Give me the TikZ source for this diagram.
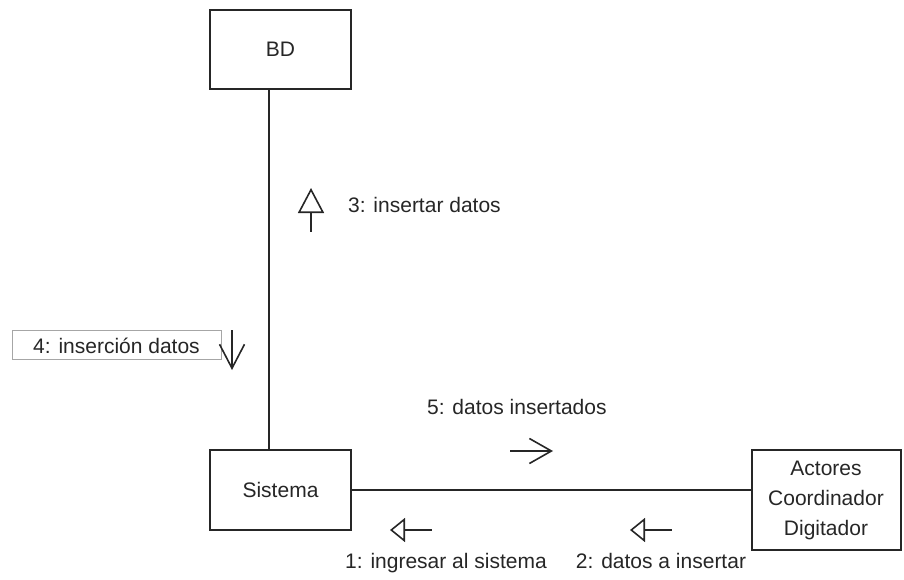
\documentclass[tikz,border=0pt]{standalone}
\usepackage{fontspec}
\setmainfont{Liberation Sans}
\usetikzlibrary{arrows.meta}
\begin{document}
\begin{tikzpicture}[x=1pt,y=-1pt,
  ink/.style={draw=black!85},
  txt/.style={font=\fontsize{21}{30}\selectfont, text=black!85, inner sep=0pt},
  obj/.style={ink, line width=2pt, inner sep=0pt, txt, align=center},
  link/.style={ink, line width=1.7pt},
  msg/.style={ink, line width=1.6pt},
  opentri/.style args={#1/#2}{{Triangle[open, length=#1pt, width=#2pt, line width=1.6pt]}-},
  barb/.style args={#1/#2}{-{Straight Barb[length=#1pt, width=#2pt, line width=1.6pt]}}]
  \useasboundingbox (0,0) rectangle (904,580);

  % objects
  \node[obj, minimum width=141pt, minimum height=79pt] (bd) at (280.5,49.5) {BD};
  \node[obj, minimum width=141pt, minimum height=80pt] (sis) at (280.5,490) {Sistema};
  \node[obj, minimum width=149pt, minimum height=100pt] (act) at (826,500)
       {Actores\\Coordinador\\Digitador};

  % links
  \draw[link] ([xshift=60pt]bd.south west) -- ([xshift=60pt]sis.north west);
  \draw[link] (sis.east) -- (sis.east -| act.west);

  % message 3
  \coordinate (m3a) at (311,188);
  \coordinate (m3b) at (311,232);
  \draw[msg, opentri=25/26] (m3a) -- (m3b);
  \node[txt, anchor=base west] (l3) at (348,212) {3: insertar datos};

  % message 4
  \node[txt, draw=black!35, line width=0.6pt, minimum width=209pt, minimum height=29pt]
       (l4) at (116.5,344.5) {};
  \node[txt, anchor=base] at (116.5,353) {4: inserción datos};
  \coordinate (m4a) at (232,330);
  \coordinate (m4b) at (232,370);
  \draw[msg, barb=24/25] (m4a) -- (m4b);

  % message 5
  \node[txt, anchor=base west] (l5) at (427,414) {5: datos insertados};
  \coordinate (m5a) at (510,451);
  \coordinate (m5b) at (553,451);
  \draw[msg, barb=22/25] (m5a) -- (m5b);

  % message 1
  \coordinate (m1a) at (390,530);
  \coordinate (m1b) at (432,530);
  \draw[msg, opentri=15/24] (m1a) -- (m1b);
  \node[txt, anchor=base] (l1) at (446,568) {1: ingresar al sistema};

  % message 2
  \coordinate (m2a) at (630,530);
  \coordinate (m2b) at (672,530);
  \draw[msg, opentri=15/24] (m2a) -- (m2b);
  \node[txt, anchor=base] (l2) at (661,568) {2: datos a insertar};
\end{tikzpicture}
\end{document}
